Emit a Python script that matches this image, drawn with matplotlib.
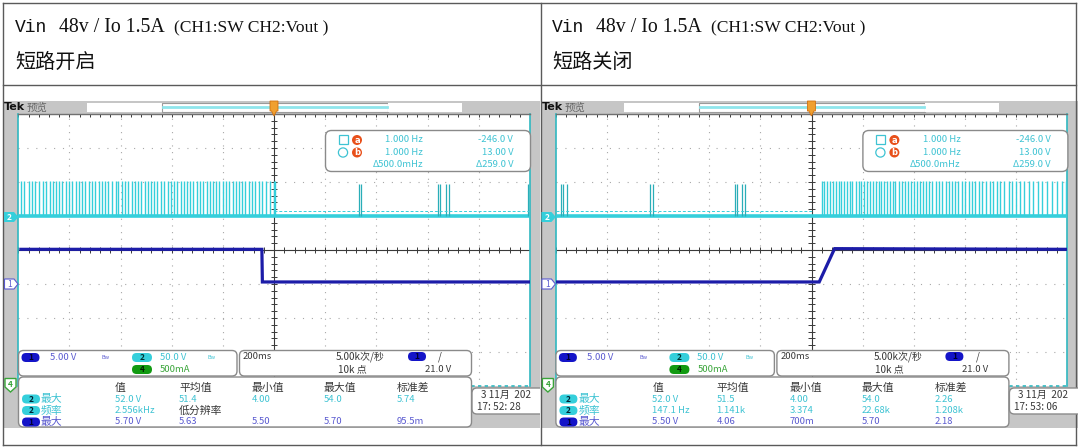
import matplotlib
matplotlib.use('Agg')
import matplotlib.pyplot as plt
from matplotlib.patches import Rectangle, FancyBboxPatch, Polygon, Circle
import numpy as np

plt.rcParams['font.family'] = ['Noto Sans CJK SC', 'DejaVu Sans']

W, H = 1080, 448

# ---------------- data ----------------
panel_titles = ['短路开启', '短路关闭']
title_vin = 'Vin'
title_main = '48v / Io 1.5A'
title_paren = '(CH1:SW CH2:Vout )'

ch1_volts_per_div = 5.0
ch2_volts_per_div = 50.0
ch1_ground_div = -1.0
ch2_ground_div = 1.0

# CH1 (blue) trace breakpoints: time in divisions, volts
left_ch1_t = [0.05, 4.76, 4.77, 10.0]
left_ch1_v = [5.1, 5.1, 0.3, 0.3]
right_ch1_t = [0.0, 5.15, 5.45, 10.0]
right_ch1_v = [0.3, 0.3, 5.2, 5.1]

# CH2 (cyan) switching pulses: positions in divisions
left_sw_dense = [0.06, 0.12, 0.2, 0.27, 0.33, 0.4, 0.48, 0.55, 0.61, 0.67, 0.74, 0.8,
                 0.86, 0.93, 1.0, 1.05, 1.12, 1.19, 1.25, 1.31, 1.38, 1.45, 1.5, 1.57,
                 1.63, 1.7, 1.76, 1.83, 1.9, 1.95, 2.02, 2.08, 2.15, 2.22, 2.28, 2.34,
                 2.4, 2.47, 2.53, 2.6, 2.66, 2.72, 2.79, 2.85, 2.92, 2.98, 3.04, 3.1,
                 3.17, 3.23, 3.3, 3.36, 3.42, 3.49, 3.55, 3.61, 3.68, 3.74, 3.8, 3.87,
                 3.93, 4.0, 4.06, 4.12, 4.19, 4.25, 4.32, 4.38, 4.44, 4.5, 4.57, 4.63,
                 4.7, 4.76, 4.84, 4.92, 4.99, 5.01]
left_sw_sparse = [6.65, 6.7, 8.2, 8.25, 8.35, 8.42, 9.97]
right_sw_dense = [5.2, 5.25, 5.31, 5.36, 5.42, 5.47, 5.53, 5.58, 5.64, 5.69, 5.75, 5.8,
                  5.86, 5.92, 5.97, 6.03, 6.08, 6.14, 6.2, 6.25, 6.31, 6.36, 6.42, 6.48,
                  6.53, 6.59, 6.64, 6.7, 6.76, 6.82, 6.88, 6.94, 7.0, 7.06, 7.12, 7.18,
                  7.24, 7.3, 7.36, 7.43, 7.49, 7.55, 7.62, 7.68, 7.74, 7.8, 7.87, 7.94,
                  8.0, 8.07, 8.14, 8.2, 8.27, 8.34, 8.41, 8.48, 8.55, 8.62, 8.69, 8.77,
                  8.85, 8.92, 9.0, 9.08, 9.16, 9.24, 9.33, 9.42, 9.5, 9.6, 9.7, 9.8,
                  9.9, 9.97]
right_sw_sparse = [0.1, 0.15, 0.22, 1.85, 1.9, 3.5, 3.55, 3.65, 3.7]
sw_high_dense = 51.0
sw_high_sparse = 47.0
ch2_ref_level = 8.0
left_ref_span = [5.0, 10.0]
right_ref_span = [0.0, 5.0]

cursor_rows = [('1.000 Hz', '-246.0 V'), ('1.000 Hz', '13.00 V'), ('Δ500.0mHz', 'Δ259.0 V')]
ch_settings = ['5.00 V', '50.0 V', '500mA']
timebase = ['200ms', '5.00k次/秒', '10k 点', '21.0 V']
meas_headers = ['值', '平均值', '最小值', '最大值', '标准差']
meas_labels = [('2', '最大'), ('2', '频率'), ('1', '最大')]
left_meas = [['52.0 V', '51.4', '4.00', '54.0', '5.74'],
             ['2.556kHz', '低分辨率', '', '', ''],
             ['5.70 V', '5.63', '5.50', '5.70', '95.5m']]
right_meas = [['52.0 V', '51.5', '4.00', '54.0', '2.26'],
              ['147.1 Hz', '1.141k', '3.374', '22.68k', '1.208k'],
              ['5.50 V', '4.06', '700m', '5.70', '2.18']]
left_stamp = ['3 11月  202', '17: 52: 28']
right_stamp = ['3 11月  202', '17: 53: 06']

# ---------------- styles ----------------
CYAN = '#35cfdb'
CYAN_T = '#3ec3d3'
BLUE = '#1c1ca8'
BLUE_T = '#5a5ad0'
BLUE_P = '#1414c8'
GREEN_P = '#119a11'
GREEN_T = '#3aa53a'
GRAY_BG = '#c6c6c6'
DARK_T = '#383838'
ORANGE = '#e8501a'
LINE = '#5a5a5a'

fig = plt.figure(figsize=(W / 100, H / 100), dpi=100)
bg = fig.add_axes([0, 0, 1, 1])
bg.set_xlim(0, W); bg.set_ylim(H, 0); bg.set_axis_off(); bg.set_zorder(0)
ov = fig.add_axes([0, 0, 1, 1])
ov.set_xlim(0, W); ov.set_ylim(H, 0); ov.set_axis_off(); ov.set_zorder(3)
ov.patch.set_visible(False)

# table
for x0 in (3.3, 540.7, 1076):
    bg.plot([x0, x0], [3, 445], color=LINE, lw=1.0, zorder=5)
for y0 in (3, 85, 445):
    bg.plot([3.3, 1076], [y0, y0], color=LINE, lw=1.0, zorder=5)


def pill(ax, x, y, w, h, fc, label, tc):
    p = FancyBboxPatch((x, y), w, h, boxstyle='round,pad=0,rounding_size=%f' % (h / 2),
                       fc=fc, ec='none', zorder=6)
    ax.add_patch(p)
    ax.text(x + w / 2, y + h / 2 + 0.3, label, fontsize=6, color=tc, ha='center',
            va='center', fontweight='bold', zorder=7)


def rbox(ax, x, y, w, h, r=5, clip=None):
    p = FancyBboxPatch((x, y), w, h, boxstyle='round,pad=0,rounding_size=%f' % r,
                       fc='white', ec='#8a8a8a', lw=1.0, zorder=5)
    ax.add_patch(p)
    if clip is not None:
        p.set_clip_path(clip)
    return p


def draw_scope(dx, title, ch1_t, ch1_v, sw_dense, sw_sparse, ref_span, meas, stamp):
    # header texts
    bg.text(15 + dx, 27, title_vin, family='Liberation Mono', fontsize=13, ha='left',
            va='center', color='#111')
    bg.text(59 + dx, 27, title_main, family='Liberation Serif', fontsize=14.3, ha='left',
            va='center', color='#111')
    bg.text(174 + dx, 28, title_paren, family='Liberation Serif', fontsize=12.6, ha='left',
            va='center', color='#111')
    bg.text(15 + dx, 62, title, fontsize=14.5, ha='left', va='center', color='#111')

    # scope background
    bg.add_patch(Rectangle((3.8 + dx, 101.5), 536.6, 327, fc=GRAY_BG, ec='none', zorder=1))
    gx0, gx1, gy0, gy1 = 18.3 + dx, 530 + dx, 114, 386
    bg.add_patch(Rectangle((gx0, gy0), gx1 - gx0, gy1 - gy0, fc='white', ec='none', zorder=2))

    ax = fig.add_axes([gx0 / W, 1 - gy1 / H, (gx1 - gx0) / W, (gy1 - gy0) / H])
    ax.set_zorder(1)
    ax.set_xlim(0, 10); ax.set_ylim(-4, 4); ax.set_axis_off()
    # grid
    for gx in [1, 2, 3, 4, 6, 7, 8, 9]:
        ax.plot([gx, gx], [-4, 4], color='#a8a8a8', lw=0.8, ls=(0, (1, 5)))
    for gy in [-3, -2, -1, 1, 2, 3]:
        ax.plot([0, 10], [gy, gy], color='#a8a8a8', lw=0.8, ls=(0, (1, 7)))
    ax.plot([5, 5], [-4, 4], color='#3a3a3a', lw=0.8)
    ax.plot([0, 10], [0, 0], color='#3a3a3a', lw=0.8)
    tx = np.arange(0, 10.01, 0.2)
    ty = np.arange(-4, 4.01, 0.2)
    ax.vlines(tx, -0.08, 0.08, color='#3a3a3a', lw=0.7)
    ax.hlines(ty, 4.94, 5.06, color='#3a3a3a', lw=0.7)
    ax.vlines(tx, 3.9, 4.0, color='#3a3a3a', lw=0.7)
    # borders
    ax.plot([0, 0], [-4, 4], color='#30b8c0', lw=1.2, clip_on=False)
    ax.plot([10, 10], [-4, 4], color='#30b8c0', lw=1.2, clip_on=False)
    ax.plot([0, 10], [-4, -4], color='#30b8c0', lw=1.2, ls=(0, (2, 2)), clip_on=False)
    ax.plot([0, 10], [4, 4], color='#707070', lw=1.0, clip_on=False)

    # CH2 traces
    base = ch2_ground_div
    ax.plot([0, 10], [base, base], color=CYAN, lw=2.6, solid_capstyle='butt')
    ax.vlines(sw_dense, base, base + sw_high_dense / ch2_volts_per_div, color=CYAN, lw=1.0)
    ax.vlines(sw_sparse, base, base + sw_high_sparse / ch2_volts_per_div, color='#2aaeb8', lw=0.9)
    ax.plot(ref_span, [base + ch2_ref_level / ch2_volts_per_div] * 2, color=CYAN, lw=0.7,
            ls=(0, (3, 2)))
    # CH1 trace
    yv = [v / ch1_volts_per_div + ch1_ground_div for v in ch1_v]
    ax.plot(ch1_t, yv, color=BLUE, lw=2.3, solid_joinstyle='miter')

    # top bar
    ov.text(4 + dx, 107.5, 'Tek', fontsize=8, fontweight='bold', family='DejaVu Sans',
            ha='left', va='center', color='#111', zorder=6)
    ov.text(27 + dx, 107.5, '预览', fontsize=7.5, ha='left', va='center', color='#666', zorder=6)
    ov.add_patch(Rectangle((87 + dx, 103), 75, 9, fc='white', ec='none', zorder=5))
    ov.add_patch(Rectangle((162 + dx, 103), 226, 9, fc='white', ec='#9a9a9a', lw=0.8, zorder=5))
    ov.plot([163 + dx, 387 + dx], [107.5, 107.5], color='#8fe6ec', lw=2.0, zorder=6)
    ov.add_patch(Rectangle((388 + dx, 103), 74, 9, fc='white', ec='none', zorder=5))
    ov.add_patch(Polygon([(270 + dx, 101), (278 + dx, 101), (278 + dx, 111), (276.5 + dx, 111),
                          (274 + dx, 116), (271.5 + dx, 111), (270 + dx, 111)],
                         closed=True, fc='#f0a030', ec='#d07010', lw=0.6, zorder=7))

    # left markers
    ov.add_patch(Polygon([(4 + dx, 212), (14 + dx, 212), (18.5 + dx, 217), (14 + dx, 222),
                          (4 + dx, 222)], closed=True, fc=CYAN, ec='none', zorder=6))
    ov.text(9.5 + dx, 217.3, '2', fontsize=6, color='white', ha='center', va='center',
            fontweight='bold', zorder=7)
    ov.add_patch(Polygon([(4.5 + dx, 279), (14 + dx, 279), (18 + dx, 284), (14 + dx, 289),
                          (4.5 + dx, 289)], closed=True, fc='white', ec=BLUE_T, lw=0.8, zorder=6))
    ov.text(10 + dx, 284.3, '1', fontsize=6, color=BLUE_T, ha='center', va='center', zorder=7)
    ov.add_patch(Polygon([(5 + dx, 378.5), (16 + dx, 378.5), (16 + dx, 387), (10.5 + dx, 392),
                          (5 + dx, 387)], closed=True, fc='white', ec=GREEN_T, lw=1.0, zorder=6))
    ov.text(10.5 + dx, 384.5, '4', fontsize=6, color=GREEN_T, ha='center', va='center',
            fontweight='bold', zorder=7)

    # cursor readout
    rbox(ov, 325.5 + dx, 130.5, 205, 41, r=6)
    ov.add_patch(Rectangle((338.5 + dx, 135.5), 9, 9, fc='none', ec=CYAN_T, lw=0.9, zorder=6))
    ov.add_patch(Circle((343 + dx, 152.5), 4.6, fc='none', ec=CYAN_T, lw=0.9, zorder=6))
    for yy, lab in ((140, 'a'), (152.5, 'b')):
        ov.add_patch(Circle((357 + dx, yy), 5.0, fc=ORANGE, ec='none', zorder=6))
        ov.text(357 + dx, yy + 0.2, lab, fontsize=6, color='white', fontweight='bold',
                ha='center', va='center', family='DejaVu Sans', zorder=7)
    for (a, b), yy in zip(cursor_rows, (140, 152.5, 164.5)):
        ov.text(423 + dx, yy, a, fontsize=6.8, color=CYAN_T, ha='right', va='center', zorder=7)
        ov.text(513 + dx, yy, b, fontsize=6.8, color=CYAN_T, ha='right', va='center', zorder=7)

    # channel box
    rbox(ov, 18.5 + dx, 350.5, 218.5, 25.5)
    pill(ov, 21.5 + dx, 353, 18, 9, BLUE_P, '1', '#000033')
    ov.text(50 + dx, 357.5, ch_settings[0], fontsize=6.8, color=BLUE_T, ha='left', va='center', zorder=7)
    ov.text(102 + dx, 357.5, 'Bw', fontsize=4, color=BLUE_T, ha='left', va='center', zorder=7)
    pill(ov, 132 + dx, 353, 20, 9, CYAN, '2', '#003333')
    ov.text(160 + dx, 357.5, ch_settings[1], fontsize=6.8, color=CYAN_T, ha='left', va='center', zorder=7)
    ov.text(208 + dx, 357.5, 'Bw', fontsize=4, color=CYAN_T, ha='left', va='center', zorder=7)
    pill(ov, 132 + dx, 365, 20, 9, GREEN_P, '4', '#002200')
    ov.text(160 + dx, 369.5, ch_settings[2], fontsize=6.8, color=GREEN_T, ha='left', va='center', zorder=7)

    # timebase box
    rbox(ov, 239.5 + dx, 350.5, 232, 25.5)
    ov.text(243 + dx, 356.5, timebase[0], fontsize=6.8, color=DARK_T, ha='left', va='center', zorder=7)
    ov.text(336 + dx, 356.5, timebase[1], fontsize=7.2, color=DARK_T, ha='left', va='center', zorder=7)
    ov.text(338 + dx, 369.5, timebase[2], fontsize=7.2, color=DARK_T, ha='left', va='center', zorder=7)
    pill(ov, 408 + dx, 352, 18, 9, BLUE_P, '1', '#000033')
    ov.text(438 + dx, 356.5, '/', fontsize=7, color=DARK_T, ha='left', va='center', zorder=7)
    ov.text(451 + dx, 369.5, timebase[3], fontsize=6.8, color=DARK_T, ha='right', va='center', zorder=7)

    # measurement box
    rbox(ov, 18.5 + dx, 377, 453, 50)
    cols = [115, 179, 252, 324, 397]
    for cx, hd in zip(cols, meas_headers):
        ov.text(cx + dx, 387.5, hd, fontsize=7.8, color=DARK_T, ha='left', va='center', zorder=7)
    rows_y = [399, 410.5, 422]
    row_fc = [CYAN, CYAN, BLUE_P]
    row_tc = [CYAN_T, CYAN_T, BLUE_T]
    for (num, lab), yy, fc, tc, vals in zip(meas_labels, rows_y, row_fc, row_tc, meas):
        pill(ov, 22 + dx, yy - 4.5, 18, 9, fc, num, '#002233' if fc == CYAN else '#000033')
        ov.text(41 + dx, yy, lab, fontsize=7.8, color=tc, ha='left', va='center', zorder=7)
        for cx, v in zip(cols, vals):
            if v == '低分辨率':
                ov.text(cx + dx, yy, v, fontsize=7.8, color=DARK_T, ha='left', va='center', zorder=7)
            elif v:
                ov.text(cx + dx, yy, v, fontsize=6.8, color=tc, ha='left', va='center', zorder=7)

    # date stamp (clipped at the cell edge)
    clip = Rectangle((3.8 + dx, 100), 536.4, 330, transform=ov.transData)
    rbox(ov, 472 + dx, 388, 80, 26, r=5, clip=clip)
    t1 = ov.text(481 + dx, 395, stamp[0], fontsize=7.2, color=DARK_T, ha='left', va='center', zorder=7)
    t2 = ov.text(477 + dx, 407.5, stamp[1], fontsize=7.2, color=DARK_T, ha='left', va='center', zorder=7)
    t1.set_clip_path(clip); t2.set_clip_path(clip)


draw_scope(0, panel_titles[0], left_ch1_t, left_ch1_v, left_sw_dense, left_sw_sparse,
           left_ref_span, left_meas, left_stamp)
draw_scope(537.4, panel_titles[1], right_ch1_t, right_ch1_v, right_sw_dense, right_sw_sparse,
           right_ref_span, right_meas, right_stamp)

fig.savefig('out.png', dpi=100)
